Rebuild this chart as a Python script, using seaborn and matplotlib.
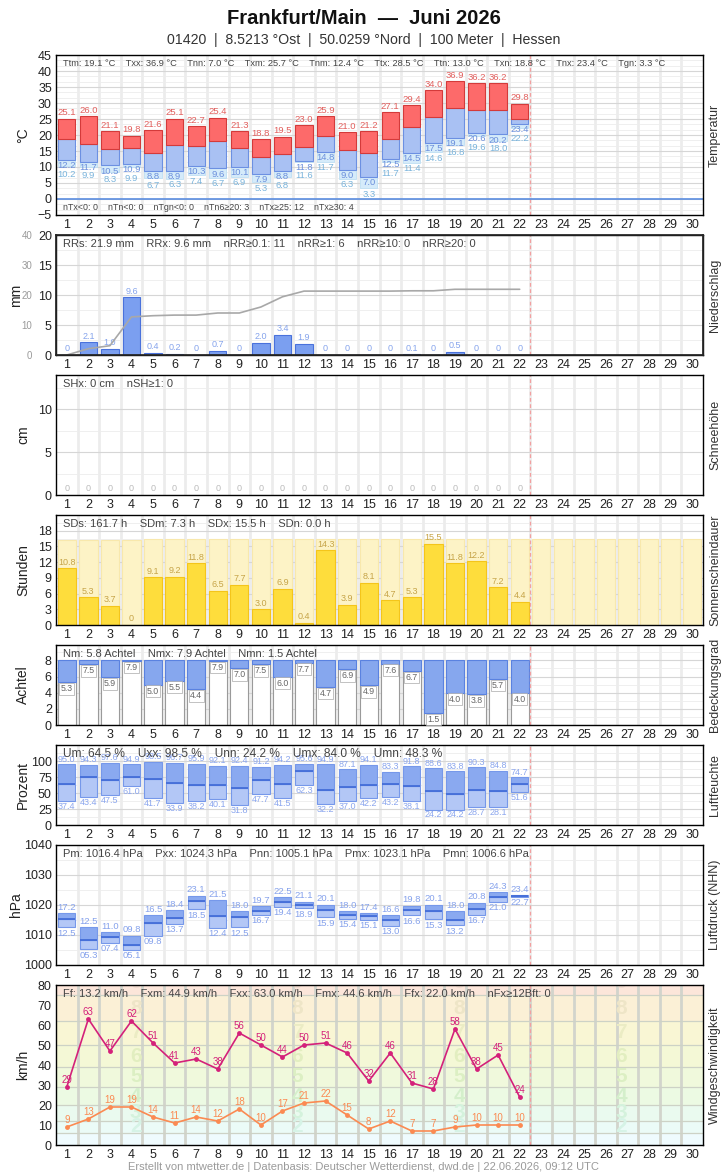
import numpy as np
import seaborn as sns
import matplotlib.pyplot as plt
from matplotlib.ticker import AutoMinorLocator

days = np.arange(1, 23)
month_days = np.arange(1, 31)

# Temperatur (°C)
t_max = np.array([25.1, 26.0, 21.1, 19.8, 21.6, 25.1, 22.7, 25.4, 21.3, 18.8, 19.5,
                  23.0, 25.9, 21.0, 21.2, 27.1, 29.4, 34.0, 36.9, 36.2, 36.2, 29.8])
t_mean = np.array([18.8, 17.2, 15.7, 16.0, 14.4, 16.9, 16.6, 18.2, 16.0, 13.0, 14.1,
                   16.2, 19.7, 15.3, 14.4, 18.8, 22.6, 25.7, 28.5, 27.8, 27.8, 25.0])
t_min = np.array([12.2, 11.7, 10.5, 10.9, 8.8, 8.9, 10.3, 9.6, 10.1, 7.9, 8.8,
                  11.8, 14.8, 9.0, 7.0, 12.5, 14.5, 17.5, 19.1, 20.6, 20.2, 23.4])
t_ground = np.array([10.2, 9.9, 8.3, 9.9, 6.7, 6.3, 7.4, 6.7, 6.9, 5.3, 6.8,
                     11.6, 11.7, 6.3, 3.3, 11.7, 11.4, 14.6, 16.8, 19.6, 18.0, 22.2])

# Niederschlag (mm)
rain = np.array([0, 2.1, 1.0, 9.6, 0.4, 0.2, 0, 0.7, 0, 2.0, 3.4,
                 1.9, 0, 0, 0, 0, 0.1, 0, 0.5, 0, 0, 0])

# Schneehoehe (cm)
snow = np.zeros(22)

# Sonnenscheindauer (h)
sun = np.array([10.8, 5.3, 3.7, 0, 9.1, 9.2, 11.8, 6.5, 7.7, 3.0, 6.9,
                0.4, 14.3, 3.9, 8.1, 4.7, 5.3, 15.5, 11.8, 12.2, 7.2, 4.4])
sun_possible = np.array([16.3, 16.3, 16.3, 16.3, 16.4, 16.4, 16.4, 16.4, 16.4, 16.4,
                         16.4, 16.4, 16.4, 16.4, 16.4, 16.5, 16.5, 16.5, 16.5, 16.5,
                         16.5, 16.5, 16.5, 16.5, 16.5, 16.5, 16.5, 16.5, 16.5, 16.5])

# Bedeckungsgrad (Achtel)
cloud = np.array([5.3, 7.5, 5.9, 7.9, 5.0, 5.5, 4.4, 7.9, 7.0, 7.5, 6.0,
                  7.7, 4.7, 6.9, 4.9, 7.6, 6.7, 1.5, 4.0, 3.8, 5.7, 4.0])

# Luftfeuchte (%)
hum_max = np.array([95.0, 94.3, 97.6, 94.9, 98.5, 96.7, 95.9, 92.1, 92.4, 91.2, 94.2,
                    95.6, 94.9, 87.1, 94.1, 83.3, 91.8, 88.6, 83.8, 90.3, 84.8, 74.7])
hum_mean = np.array([64.3, 75.2, 70.5, 75.2, 72.1, 65.8, 62.7, 62.7, 58.0, 70.5, 64.3,
                     84.0, 54.9, 58.9, 62.7, 64.3, 61.1, 53.3, 48.3, 54.9, 53.3, 64.3])
hum_min = np.array([37.4, 43.4, 47.5, 61.0, 41.7, 33.9, 38.2, 40.1, 31.8, 47.7, 41.5,
                    62.3, 32.2, 37.0, 42.2, 43.2, 38.1, 24.2, 24.2, 28.7, 28.1, 51.6])

# Luftdruck (hPa)
p_max = np.array([1017.2, 1012.5, 1011.0, 1009.8, 1016.5, 1018.4, 1023.1, 1021.5, 1018.0,
                  1019.7, 1022.5, 1021.1, 1020.1, 1018.0, 1017.4, 1016.6, 1019.8, 1020.1,
                  1018.0, 1020.8, 1024.3, 1023.4])
p_mean = np.array([1015.2, 1008.3, 1009.4, 1006.6, 1013.9, 1015.6, 1021.4, 1016.2, 1015.9,
                   1018.1, 1020.9, 1019.9, 1018.3, 1016.6, 1016.3, 1015.0, 1018.3, 1018.1,
                   1015.1, 1018.6, 1022.6, 1023.1])
p_min = np.array([1012.5, 1005.3, 1007.4, 1005.1, 1009.8, 1013.7, 1018.5, 1012.4, 1012.5,
                  1016.7, 1019.4, 1018.9, 1015.9, 1015.4, 1015.1, 1013.0, 1016.6, 1015.3,
                  1013.2, 1016.7, 1021.0, 1022.7])

# Wind (km/h)
gust = np.array([29, 63, 47, 62, 51, 41, 43, 38, 56, 50, 44, 50, 51, 46, 32, 46, 31, 28, 58, 38, 45, 24])
wind = np.array([9, 13, 19, 19, 14, 11, 14, 12, 18, 10, 17, 21, 22, 15, 8, 12, 7, 7, 9, 10, 10, 10])
bft_edges = [0, 6, 12, 20, 29, 39, 50, 62, 75, 88]
bft_names = ["", "2", "3", "4", "5", "6", "7", "8", "9"]
bft_colors = ["#effbfe", "#ebfbf7", "#eafaef", "#ecfae3", "#f0f9dc", "#f4f8d6", "#f9f6d4", "#fbf0d6", "#fce6da"]
bft_text = ["#ffffff", "#d6f3e6", "#d4f2dc", "#d4efcb", "#dcefc3", "#e2eec0", "#ebecc4", "#eee5c7", "#f1dbcf"]

temp_stats = ["Ttm: 19.1 °C", "Txx: 36.9 °C", "Tnn: 7.0 °C", "Txm: 25.7 °C", "Tnm: 12.4 °C",
              "Ttx: 28.5 °C", "Ttn: 13.0 °C", "Txn: 18.8 °C", "Tnx: 23.4 °C", "Tgn: 3.3 °C"]
temp_counts = ["nTx<0: 0", "nTn<0: 0", "nTgn<0: 0", "nTn6≥20: 3", "nTx≥25: 12", "nTx≥30: 4"]
rain_stats = ["RRs: 21.9 mm", "RRx: 9.6 mm", "nRR≥0.1: 11", "nRR≥1: 6", "nRR≥10: 0", "nRR≥20: 0"]
snow_stats = ["SHx: 0 cm", "nSH≥1: 0"]
sun_stats = ["SDs: 161.7 h", "SDm: 7.3 h", "SDx: 15.5 h", "SDn: 0.0 h"]
cloud_stats = ["Nm: 5.8 Achtel", "Nmx: 7.9 Achtel", "Nmn: 1.5 Achtel"]
hum_stats = ["Um: 64.5 %", "Uxx: 98.5 %", "Unn: 24.2 %", "Umx: 84.0 %", "Umn: 48.3 %"]
pres_stats = ["Pm: 1016.4 hPa", "Pxx: 1024.3 hPa", "Pnn: 1005.1 hPa", "Pmx: 1023.1 hPa", "Pmn: 1006.6 hPa"]
wind_stats = ["Ff: 13.2 km/h", "Fxm: 44.9 km/h", "Fxx: 63.0 km/h", "Fmx: 44.6 km/h",
              "Ffx: 22.0 km/h", "nFx≥12Bft: 0"]

sns.set_theme(style="white")
plt.rcParams['font.family'] = ['Liberation Sans', 'DejaVu Sans']

W, H = 728, 1175
fig = plt.figure(figsize=(W / 100, H / 100), dpi=100)


def new_panel(top, bottom):
    return fig.add_axes([56 / W, 1 - bottom / H, 647 / W, (bottom - top) / H])


def finish(ax, ylim, yticks, minor, unit, name, stats, size=8, unit_x=-0.040, vgrid='#ececec'):
    ax.set_xlim(0.5, 30.5)
    ax.set_ylim(*ylim)
    ax.set_xticks(month_days)
    ax.set_xticks(month_days[:-1] + 0.5, minor=True)
    ax.set_yticks(yticks)
    ax.yaxis.set_minor_locator(AutoMinorLocator(minor))
    ax.tick_params(which='both', length=0, labelsize=9, pad=3, colors='#222222')
    ax.set_axisbelow(True)
    ax.grid(False)
    ax.grid(axis='x', which='minor', color=vgrid, lw=2)
    if minor:
        ax.grid(axis='y', which='major', color='#d6d6d6', lw=0.8)
        ax.grid(axis='y', which='minor', color='#ededed', lw=0.6)
    ax.axvline(22.5, color='#f2a0a0', ls=(0, (3, 2)), lw=0.9, zorder=1)
    for s in ax.spines.values():
        s.set_color('black')
        s.set_linewidth(1)
    ax.set_xlabel('')
    ax.set_ylabel(unit, fontsize=10, color='#222222')
    ax.yaxis.set_label_coords(unit_x, 0.5)
    ax.text(1.0185, 0.5, name, transform=ax.transAxes, rotation=90,
            ha='center', va='center', fontsize=9, color='#333333')
    ax.annotate("    ".join(stats), xy=(0, 1), xycoords='axes fraction', xytext=(7, -9),
                textcoords='offset pixels', ha='left', va='center', fontsize=size,
                color='#444444', zorder=6)


def label(v):
    return "0" if v == 0 else f"{v:.1f}"


# --- Temperatur ---
ax = new_panel(55, 215)
ax.bar(days, t_min - t_ground, bottom=t_ground, width=0.8, color='#d5ebfa', edgecolor='#bfdff3', lw=0.6)
ax.bar(days, t_mean - t_min, bottom=t_min, width=0.8, color='#a9c1f3', edgecolor='#6c90e2', lw=0.8)
ax.bar(days, t_max - t_mean, bottom=t_mean, width=0.8, color='#fd6a6a', edgecolor='#d43a3a', lw=0.8)
ax.axhline(0, color='#5b8de0', lw=1.2, zorder=2)
for d, hi, lo, g in zip(days, t_max, t_min, t_ground):
    ax.text(d, hi + 0.4, f"{hi:.1f}", ha='center', va='bottom', fontsize=6.8, color='#e2605e')
    y_lo = lo - 0.4
    ax.text(d, y_lo, f"{lo:.1f}", ha='center', va='top', fontsize=6.8, color='#6b8fdc')
    ax.text(d, min(g - 0.4, y_lo - 2.7), f"{g:.1f}", ha='center', va='top', fontsize=6.8, color='#7ab4dc')
finish(ax, (-5, 45), range(-5, 46, 5), 3, '°C', 'Temperatur', temp_stats, size=6.7)
ax.annotate("    ".join(temp_counts), xy=(0, 0), xycoords='axes fraction', xytext=(7, 7),
            textcoords='offset pixels', ha='left', va='center', fontsize=6.4, color='#444444')

# --- Niederschlag ---
ax = new_panel(235, 355)
sns.barplot(x=days, y=rain, native_scale=True, orient='x', width=0.8, color='#7b9ff0',
            saturation=1, edgecolor='#4a72dc', linewidth=0.8, errorbar=None, ax=ax)
for d, v in zip(days, rain):
    ax.text(d, v + 0.3, label(v), ha='center', va='bottom', fontsize=6.5, color='#86a4ec')
ax_c = ax.twinx()
sns.lineplot(x=days, y=np.cumsum(rain), color='#a8a8a8', lw=1.2, ax=ax_c)
ax_c.set_ylim(0, 40)
ax_c.set_yticks(range(0, 41, 10))
ax_c.yaxis.tick_left()
ax_c.tick_params(axis='y', length=0, pad=17, labelsize=7, labelcolor='#9a9a9a')
ax_c.set_ylabel('')
ax_c.grid(False)
finish(ax, (0, 20), range(0, 21, 5), 2, 'mm', 'Niederschlag', rain_stats, unit_x=-0.051)

# --- Schneehoehe ---
ax = new_panel(375, 495)
for d, v in zip(days, snow):
    ax.text(d, v + 0.2, label(v), ha='center', va='bottom', fontsize=6.5, color='#bbbbbb')
finish(ax, (0, 14), [0, 5, 10], 2, 'cm', 'Schneehöhe', snow_stats)

# --- Sonnenscheindauer ---
ax = new_panel(515, 625)
sns.barplot(x=month_days, y=sun_possible, native_scale=True, orient='x', width=0.85, color='#fdf3c6',
            saturation=1, edgecolor='#f8e8ac', linewidth=0.8, errorbar=None, ax=ax)
sns.barplot(x=days, y=sun, native_scale=True, orient='x', width=0.85, color='#fedd3c',
            saturation=1, edgecolor='#f4c51a', linewidth=0.8, errorbar=None, ax=ax)
for d, v in zip(days, sun):
    ax.text(d, v + 0.3, label(v), ha='center', va='bottom', fontsize=6.5, color='#c6a448')
finish(ax, (0, 21), range(0, 19, 3), 2, 'Stunden', 'Sonnenscheindauer', sun_stats)

# --- Bedeckungsgrad ---
ax = new_panel(645, 725)
sns.barplot(x=days, y=cloud, native_scale=True, orient='x', width=0.85, color='white',
            saturation=1, edgecolor='#9a9a9a', linewidth=0.8, errorbar=None, ax=ax)
ax.bar(days, 8 - cloud, bottom=cloud, width=0.85, color='#86a7ee', edgecolor='#5a82e0', lw=0.8)
for d, v in zip(days, cloud):
    ax.text(d, v - 0.25, f"{v:.1f}", ha='center', va='top', fontsize=6.3, color='#666666',
            bbox=dict(boxstyle='square,pad=0.15', fc='white', ec='#aaaaaa', lw=0.5))
finish(ax, (0, 9.9), range(0, 9, 2), 2, 'Achtel', 'Bedeckungsgrad', cloud_stats)

# --- Luftfeuchte ---
ax = new_panel(745, 825)
ax.bar(days, hum_mean - hum_min, bottom=hum_min, width=0.8, color='#b3c7f6', edgecolor='#7698ea', lw=0.8)
ax.bar(days, hum_max - hum_mean, bottom=hum_mean, width=0.8, color='#8aa9f0', edgecolor='#7698ea', lw=0.8)
ax.hlines(hum_mean, days - 0.4, days + 0.4, color='#3e69d6', lw=1.2)
for d, hi, lo in zip(days, hum_max, hum_min):
    ax.text(d, hi + 1, f"{hi:.1f}", ha='center', va='bottom', fontsize=6.5, color='#8ba6ee')
    ax.text(d, lo - 1.5, f"{lo:.1f}", ha='center', va='top', fontsize=6.5, color='#8ba6ee')
finish(ax, (0, 125), range(0, 101, 25), 2, 'Prozent', 'Luftfeuchte', hum_stats, size=8.6)

# --- Luftdruck ---
ax = new_panel(845, 965)
ax.bar(days, p_mean - p_min, bottom=p_min, width=0.8, color='#b3c7f6', edgecolor='#7698ea', lw=0.8)
ax.bar(days, p_max - p_mean, bottom=p_mean, width=0.8, color='#8aa9f0', edgecolor='#7698ea', lw=0.8)
ax.hlines(p_mean, days - 0.4, days + 0.4, color='#3e69d6', lw=1.2)
for d, hi, lo in zip(days, p_max, p_min):
    ax.text(d, hi + 0.4, f"{hi - 1000:04.1f}", ha='center', va='bottom', fontsize=6.8, color='#86a2ec')
    ax.text(d, lo - 0.5, f"{lo - 1000:04.1f}", ha='center', va='top', fontsize=6.8, color='#86a2ec')
finish(ax, (1000, 1040), range(1000, 1041, 10), 2, 'hPa', 'Luftdruck (NHN)', pres_stats, unit_x=-0.051)

# --- Windgeschwindigkeit ---
ax = new_panel(985, 1145)
for lo, hi, c in zip(bft_edges[:-1], bft_edges[1:], bft_colors):
    ax.axhspan(lo, hi, color=c, lw=0, zorder=0)
for e in bft_edges[1:-1]:
    ax.axhline(e, color='#cdd2c6', lw=0.9, zorder=0.6)
for lo, hi, n, c in zip(bft_edges[:-1], bft_edges[1:], bft_names, bft_text):
    for xb in [4.2, 11.7, 19.2, 26.7]:
        ax.text(xb, (lo + hi) / 2, n, ha='center', va='center', fontsize=15, fontweight='bold',
                color=c, zorder=0.7, clip_on=True)
sns.lineplot(x=days, y=gust, color='#d4217a', lw=1.2, marker='o', markersize=3.5,
             markeredgewidth=0, ax=ax)
sns.lineplot(x=days, y=wind, color='#fb8a52', lw=1.2, marker='o', markersize=3.5,
             markeredgewidth=0, ax=ax)
for d, g, f in zip(days, gust, wind):
    ax.text(d, g + 1.2, str(g), ha='center', va='bottom', fontsize=7, color='#d4217a')
    ax.text(d, f + 1.2, str(f), ha='center', va='bottom', fontsize=7, color='#fb8a52')
finish(ax, (0, 80), range(0, 81, 10), 0, 'km/h', 'Windgeschwindigkeit', wind_stats, vgrid='#d2d4cc')

fig.text(0.5, 1 - 18 / H, "Frankfurt/Main  —  Juni 2026", ha='center', va='center',
         fontsize=14.5, fontweight='bold', color='#111111')
fig.text(0.5, 1 - 40 / H, "01420  |  8.5213 °Ost  |  50.0259 °Nord  |  100 Meter  |  Hessen",
         ha='center', va='center', fontsize=10.2, color='#333333')
fig.text(0.5, 1 - 1167 / H, "Erstellt von mtwetter.de | Datenbasis: Deutscher Wetterdienst, dwd.de | 22.06.2026, 09:12 UTC",
         ha='center', va='center', fontsize=8, color='#9a9a9a')

fig.savefig('out.png', dpi=100)
